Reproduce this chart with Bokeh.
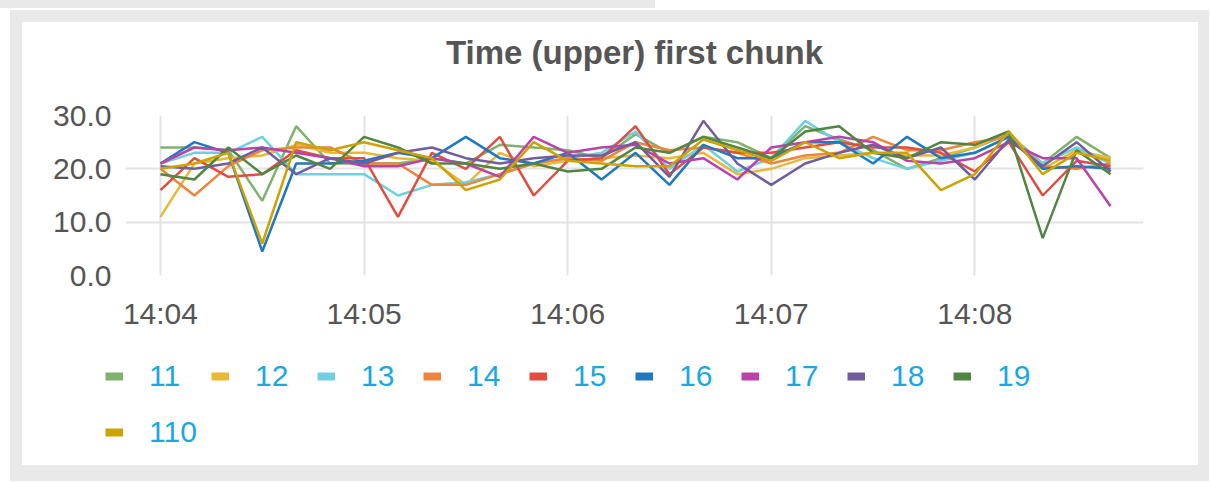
import pandas as pd
from bokeh.plotting import figure
from bokeh.models import (Range1d, FixedTicker, DatetimeTickFormatter,
                          NumeralTickFormatter, Legend, LegendItem, Spacer)
from bokeh.layouts import column, row
from bokeh.embed import file_html
from bokeh.resources import INLINE

title_text = "Time (upper) first chunk"
day = "2017-01-01"
start_time = "14:04:00"
step = "10s"
n_points = 29
x_tick_labels = ["14:04", "14:05", "14:06", "14:07", "14:08"]
y_ticks = [0, 10, 20, 30]

series_names = ["11", "12", "13", "14", "15", "16", "17", "18", "19", "110"]
series_colors = ["#7EB26D", "#EAB839", "#6ED0E0", "#EF843C", "#E24D42",
                 "#1F78C1", "#BA43A9", "#705DA0", "#508642", "#CCA300"]

s11 = [24, 24, 23.5, 14, 28, 21, 21, 21, 22, 21, 24.5, 24, 23.5, 22, 26.5,
       23, 26, 25, 22, 28, 25.5, 23.5, 20, 22, 24, 26.5, 21, 26, 22]
s12 = [11, 21, 22, 22.5, 24.5, 23, 23, 22, 21.5, 17, 23, 20.5, 21.5, 22, 22.5,
       22, 23, 19, 20, 22, 22.5, 23, 22.5, 22.5, 24, 27, 20, 23.5, 22]
s13 = [21, 23, 23, 26, 19, 19, 19, 15, 17, 17.5, 19, 21, 22, 23, 27,
       20, 24.5, 19.5, 22, 29, 25, 22, 20, 21.5, 23, 26, 21, 24, 21]
s14 = [20, 15, 20.5, 23.5, 24, 24, 21, 21, 17, 17, 19, 21, 22, 21.5, 25,
       23.5, 24, 23, 21, 22.5, 23, 26, 23.5, 23.5, 25, 26, 20.5, 20, 21]
s15 = [16, 22, 18.5, 19, 23.5, 22, 22, 11, 23, 20, 26, 15, 21.5, 22, 28,
       19, 24, 23, 23, 24, 25, 24, 24, 23, 19.5, 25, 15, 21.5, 20.5]
s16 = [21, 25, 23, 4.5, 21, 21, 21.5, 23, 22, 26, 22, 21, 23, 18, 23,
       17, 24.5, 22, 22, 25, 25, 21, 26, 22, 23, 26, 20, 20.5, 20]
s17 = [21, 24, 23.5, 24, 23, 22, 20.5, 20.5, 22, 21, 18.5, 26, 23, 24, 24.5,
       21, 22, 18, 24, 25, 26, 25, 21.5, 21, 22, 25, 22, 22, 13]
s18 = [20.5, 20, 21, 24, 19, 22, 21, 23, 24, 22, 21, 22, 22.5, 22.5, 25,
       18.5, 29, 21, 17, 21, 23, 24.5, 22, 24, 18, 25.5, 20.5, 25, 19.5]
s19 = [19, 18, 24, 19, 22.5, 20, 26, 24, 21, 21, 20, 21, 19.5, 20, 24,
       23, 26, 24, 22, 27, 28, 23, 22, 25, 24.5, 27, 7, 23.5, 19]
s110 = [20, 21, 23, 6, 25, 23.5, 25, 23.5, 22, 16, 18, 25, 21.5, 21, 20.5,
        20.5, 25.5, 23.5, 21.5, 25, 22, 23, 23, 16, 19, 27, 19, 23, 21.5]
series_values = [s11, s12, s13, s14, s15, s16, s17, s18, s19, s110]

times = pd.date_range(f"{day} {start_time}", periods=n_points, freq=step)
x_start = pd.Timestamp(f"{day} 14:03:49.7")
x_end = pd.Timestamp(f"{day} 14:08:49.7")

FONT = "Liberation Sans"
TEXT = "#555555"
GRID = "#e3e3e3"
LEGEND_TEXT = "#1AA7E4"
FRAME_BG = "#e9e9e9"
W = 1176


def blank(fig):
    fig.outline_line_color = None
    fig.axis.visible = False
    fig.grid.visible = False


# ---- title strip ----
tf = figure(width=W, height=70, output_backend="svg", toolbar_location=None,
            x_range=Range1d(0, 1), y_range=Range1d(0, 1),
            min_border_left=103, min_border_right=55,
            min_border_top=0, min_border_bottom=0,
            background_fill_color="white", border_fill_color="white")
blank(tf)
tf.title.text = title_text
tf.title.align = "center"
tf.title.text_font = FONT
tf.title.text_font_size = "33px"
tf.title.text_font_style = "bold"
tf.title.text_color = TEXT
tf.title.standoff = 18

# ---- main chart ----
p = figure(width=W, height=248, x_axis_type="datetime", title=None,
           output_backend="svg", toolbar_location=None,
           x_range=Range1d(x_start, x_end), y_range=Range1d(0, 30),
           min_border_left=103, min_border_right=55,
           min_border_top=23, min_border_bottom=65,
           background_fill_color="white", border_fill_color="white")
p.outline_line_color = None

tick_ms = [pd.Timestamp(f"{day} {t}").value / 1e6 for t in x_tick_labels]
p.xaxis.ticker = FixedTicker(ticks=tick_ms)
p.xaxis.formatter = DatetimeTickFormatter(minutes="%H:%M", hours="%H:%M",
                                          seconds="%H:%M", minsec="%H:%M")
p.yaxis.ticker = FixedTicker(ticks=y_ticks)
p.yaxis.formatter = NumeralTickFormatter(format="0.0")

for ax in (p.xaxis[0], p.yaxis[0]):
    ax.axis_line_color = None
    ax.major_tick_line_color = None
    ax.minor_tick_line_color = None
    ax.major_tick_out = 0
    ax.major_tick_in = 0
    ax.major_label_text_font = FONT
    ax.major_label_text_font_size = "30px"
    ax.major_label_text_color = TEXT
p.xaxis.major_label_standoff = 21
p.yaxis.major_label_standoff = 14

p.xgrid.grid_line_color = GRID
p.xgrid.grid_line_width = 2
p.ygrid.grid_line_color = GRID
p.ygrid.grid_line_width = 2

for vals, c in zip(series_values, series_colors):
    p.line(times, vals, line_color=c, line_width=2.5)

# ---- legend strip ----
lf = figure(width=W, height=125, output_backend="svg",
            toolbar_location=None, x_range=Range1d(0, 1), y_range=Range1d(0, 1),
            min_border_left=0, min_border_right=0,
            min_border_top=0, min_border_bottom=0,
            background_fill_color="white", border_fill_color="white")
blank(lf)

items = []
for name, vals, c in zip(series_names, series_values, series_colors):
    # legend swatch renderer; its data lies outside this strip's ranges
    proxy = lf.line(times, vals, line_color=c, line_width=8)
    items.append(LegendItem(label=name, renderers=[proxy]))

legend = Legend(items=items, location=(83, 5), orientation="horizontal",
                ncols=9, glyph_width=18, glyph_height=56, label_height=56,
                label_width=62, label_standoff=26, spacing=0, padding=0,
                margin=0, border_line_color=None, background_fill_alpha=0,
                label_text_font=FONT, label_text_font_size="30px",
                label_text_color=LEGEND_TEXT)
lf.add_layout(legend, "center")

inner = column(tf, p, row(lf), spacing=0, styles={"background-color": "white"})
grey_box = column(Spacer(height=12),
                  row(Spacer(width=12), inner, Spacer(width=11), spacing=0),
                  Spacer(height=16), spacing=0,
                  styles={"background-color": FRAME_BG})
layout = column(Spacer(width=655, height=8,
                       styles={"background-color": FRAME_BG}),
                Spacer(height=2),
                row(Spacer(width=10), grey_box, spacing=0),
                spacing=0)

open("out.html", "w").write(file_html(layout, INLINE))
